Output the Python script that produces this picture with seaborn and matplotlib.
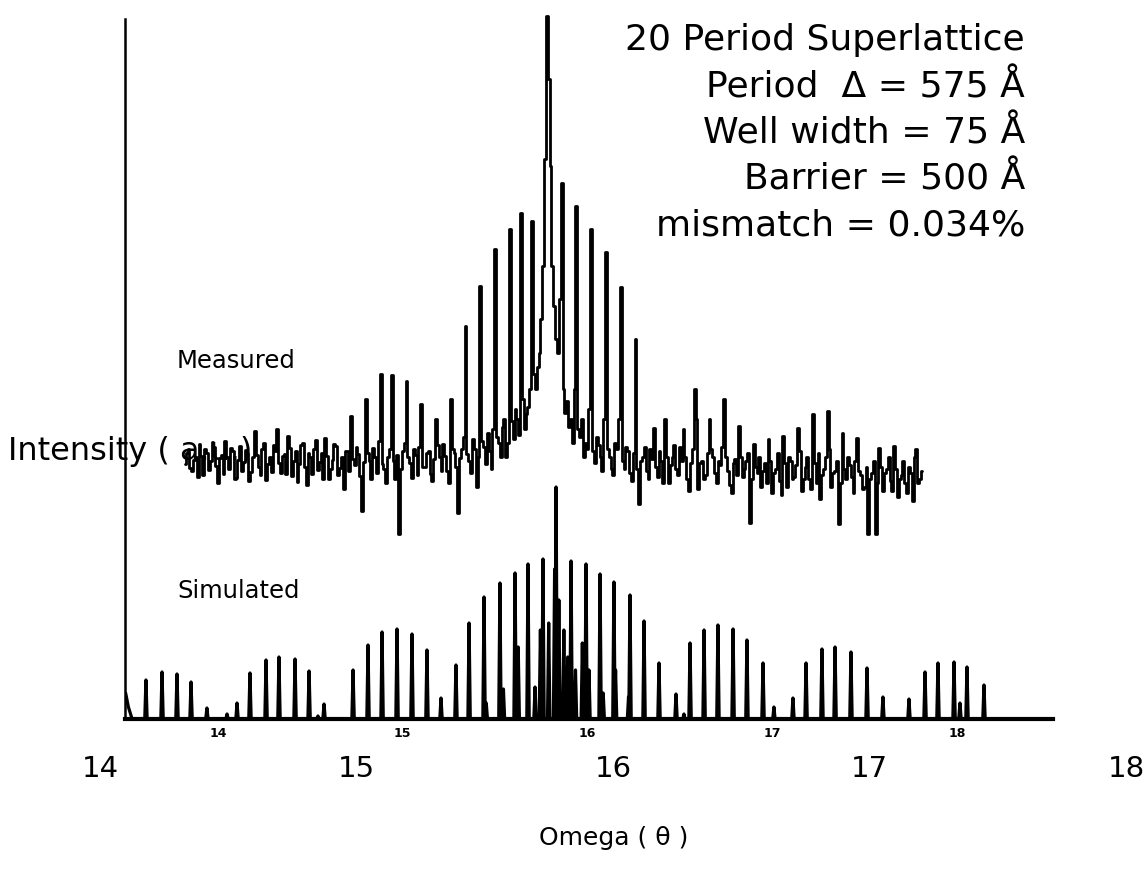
import numpy as np
import pandas as pd
import matplotlib
matplotlib.use("Agg")
import matplotlib.pyplot as plt
import seaborn as sns

# ---------------- data ----------------
# Measured rocking curve: uniform scan, start / step in degrees, intensity (a.u.)
meas_start = 13.82
meas_step = 0.01
measured = [
    255, 266, 270, 251, 248, 259, 262, 242, 275, 263,
    244, 270, 266, 249, 258, 277, 272, 253, 236, 261,
    264, 245, 278, 262, 250, 271, 268, 240, 241, 259,
    273, 248, 257, 269, 266, 238, 247, 262, 288, 264,
    252, 244, 270, 276, 239, 255, 262, 247, 274, 268,
    290, 256, 246, 263, 265, 245, 283, 271, 243, 258,
    268, 237, 255, 274, 276, 252, 234, 266, 262, 245,
    270, 279, 249, 257, 266, 240, 281, 263, 240, 250,
    259, 275, 273, 244, 251, 262, 230, 268, 268, 248,
    303, 260, 254, 272, 265, 243, 208, 257, 320, 266,
    258, 240, 271, 262, 246, 278, 345, 255, 250, 236,
    262, 270, 344, 258, 240, 264, 185, 250, 268, 276,
    338, 262, 256, 241, 270, 264, 244, 272, 315, 252,
    252, 266, 268, 245, 238, 260, 300, 274, 262, 248,
    275, 263, 248, 236, 320, 270, 266, 252, 206, 261,
    270, 282, 393, 265, 258, 246, 280, 270, 232, 262,
    433, 278, 272, 255, 286, 268, 250, 290, 470, 282,
    276, 262, 292, 300, 262, 276, 490, 298, 280, 310,
    300, 284, 506, 320, 290, 305, 312, 330, 498, 345,
    330, 352, 366, 400, 453, 560, 703, 640, 553, 453,
    413, 380, 366, 420, 536, 330, 306, 318, 292, 300,
    276, 330, 513, 290, 282, 300, 262, 276, 270, 310,
    490, 268, 256, 282, 274, 262, 248, 300, 467, 270,
    262, 250, 244, 276, 270, 300, 432, 258, 250, 272,
    268, 246, 238, 266, 380, 250, 215, 258, 262, 272,
    248, 240, 270, 260, 291, 252, 242, 268, 258, 236,
    300, 262, 236, 254, 262, 274, 250, 244, 272, 258,
    290, 262, 240, 228, 256, 270, 330, 300, 230, 256,
    258, 240, 244, 266, 300, 270, 262, 246, 236, 258,
    254, 272, 320, 262, 248, 234, 226, 256, 260, 244,
    293, 262, 242, 250, 258, 266, 196, 240, 275, 252,
    246, 262, 232, 248, 256, 236, 280, 258, 226, 246,
    250, 266, 238, 224, 283, 256, 232, 262, 258, 240,
    242, 254, 291, 268, 228, 240, 252, 262, 240, 230,
    305, 256, 236, 266, 220, 244, 250, 262, 308, 270,
    232, 246, 248, 258, 195, 236, 286, 250, 240, 262,
    254, 242, 226, 258, 281, 248, 244, 230, 232, 252,
    185, 240, 246, 258, 185, 236, 271, 252, 228, 246,
    250, 262, 238, 228, 273, 250, 222, 240, 244, 258,
    236, 226, 252, 246, 218, 262, 270, 236, 240, 248,
]

# Simulated curve: main satellite peaks (position in degrees, height a.u.)
sim_pos = [13.610, 13.697, 13.778, 13.854, 13.940, 14.049, 14.103, 14.173, 14.260, 14.330,
           14.417, 14.493, 14.541, 14.574, 14.731, 14.812, 14.888, 14.969, 15.050, 15.131,
           15.207, 15.288, 15.359, 15.440, 15.526, 15.608, 15.678, 15.759, 15.830, 15.911,
           15.992, 16.068, 16.143, 16.230, 16.306, 16.387, 16.479, 16.522, 16.555, 16.631,
           16.706, 16.788, 16.863, 16.950, 17.009, 17.112, 17.183, 17.269, 17.340, 17.426,
           17.513, 17.599, 17.740, 17.827, 17.897, 17.984, 18.016, 18.054, 18.146]
sim_height = [39, 47, 45, 37, 11, 5, 16, 46, 59, 62,
              60, 48, 3, 15, 49, 74, 87, 90, 85, 69,
              21, 54, 96, 122, 136, 146, 155, 160, 232, 158,
              155, 145, 137, 124, 98, 56, 25, 5, 76, 89,
              94, 90, 79, 56, 12, 21, 56, 70, 72, 67,
              51, 22, 20, 47, 56, 57, 16, 52, 34]
# secondary fringes in the central cluster
sim_minor_pos = [15.452, 15.545, 15.625, 15.716, 15.745, 15.790, 15.822, 15.845,
                 15.872, 15.893, 15.935, 15.972, 16.008, 16.085, 16.152, 16.222]
sim_minor_height = [16, 30, 72, 32, 89, 96, 150, 119, 89, 62, 49, 76, 49, 26, 49, 22]
# tail of the substrate peak at the left edge
sim_tail_x = [13.500, 13.515, 13.535]
sim_tail_y = [26, 12, 0]

inner_ticks = [14, 15, 16, 17, 18]
outer_ticks = [14, 15, 16, 17, 18]

info_lines = ["20 Period Superlattice",
              "Period  \u0394 = 575 \u00c5",
              "Well width = 75 \u00c5",
              "Barrier = 500 \u00c5",
              "mismatch = 0.034%"]

# ---------------- figure ----------------
sns.set_theme(style="white")
plt.rcParams['font.family'] = ['DejaVu Sans']
plt.rcParams['text.color'] = 'black'
plt.rcParams['xtick.color'] = 'black'
plt.rcParams['axes.labelcolor'] = 'black'

W, H = 1145, 874
fig = plt.figure(figsize=(W / 100, H / 100), dpi=100)
fig.patch.set_facecolor("white")


def fx(px):
    return px / W


def fy(py):
    return 1 - py / H


ax = fig.add_axes([fx(125), fy(719), (1053 - 125) / W, (719 - 10) / H])
ax.set_facecolor("white")

# simulated polyline built from the peak table
peaks = sorted(zip(sim_pos + sim_minor_pos, sim_height + sim_minor_height))
w = 0.0065
sx = list(sim_tail_x)
sy = list(sim_tail_y)
for p, h in peaks:
    sx += [p - w, p, p + w]
    sy += [0, h, 0]
sx.append(18.53)
sy.append(0)
df_s = pd.DataFrame({"omega": sx, "intensity": sy})
sns.lineplot(data=df_s, x="omega", y="intensity", ax=ax, color="black",
             lw=2.3, estimator=None, sort=False)

mx = meas_start + meas_step * np.arange(len(measured))
df_m = pd.DataFrame({"omega": mx, "intensity": measured})
sns.lineplot(data=df_m, x="omega", y="intensity", ax=ax, color="black",
             lw=2.0, drawstyle="steps-mid", estimator=None, sort=False)

x0 = 14 + (125 - 218) / 184.75
x1 = 14 + (1053 - 218) / 184.75
ax.set_xlim(x0, x1)
ax.set_ylim(0, 709)
ax.set_xlabel("")
ax.set_ylabel("")
ax.set_yticks([])
ax.set_xticks(inner_ticks)
ax.set_xticklabels([str(t) for t in inner_ticks], fontsize=9, fontweight="bold")
ax.tick_params(axis="x", length=0, pad=6, colors="black")
for s in ["top", "right"]:
    ax.spines[s].set_visible(False)
ax.spines["left"].set_color("black")
ax.spines["left"].set_linewidth(1.8)
ax.spines["left"].set_bounds(0, 700)
ax.spines["bottom"].set_color("black")
ax.spines["bottom"].set_linewidth(3)

# outer (frame) axis with its own large tick labels
ax2 = fig.add_axes([fx(100), fy(748), (1126 - 100) / W, 0.0001])
ax2.set_xlim(14, 18)
ax2.set_xticks(outer_ticks)
ax2.set_xticklabels([str(t) for t in outer_ticks], fontsize=21)
ax2.tick_params(axis="x", length=0, pad=5, colors="black")
ax2.set_yticks([])
for s in ax2.spines.values():
    s.set_visible(False)
ax2.patch.set_alpha(0)

fig.text(fx(614), fy(838), "Omega ( \u03b8 )", fontsize=18, ha="center", va="center")
fig.text(fx(8), fy(460), "Intensity ( a.u.)", fontsize=23, ha="left", va="baseline")
fig.text(fx(177), fy(368), "Measured", fontsize=17.5, ha="left", va="baseline")
fig.text(fx(177), fy(598), "Simulated", fontsize=17.5, ha="left", va="baseline")

base = [50, 97, 143, 189, 235]
for line, b in zip(info_lines, base):
    fig.text(fx(1025), fy(b), line, fontsize=26, ha="right", va="baseline")

fig.savefig("out.png", dpi=100, facecolor="white")
